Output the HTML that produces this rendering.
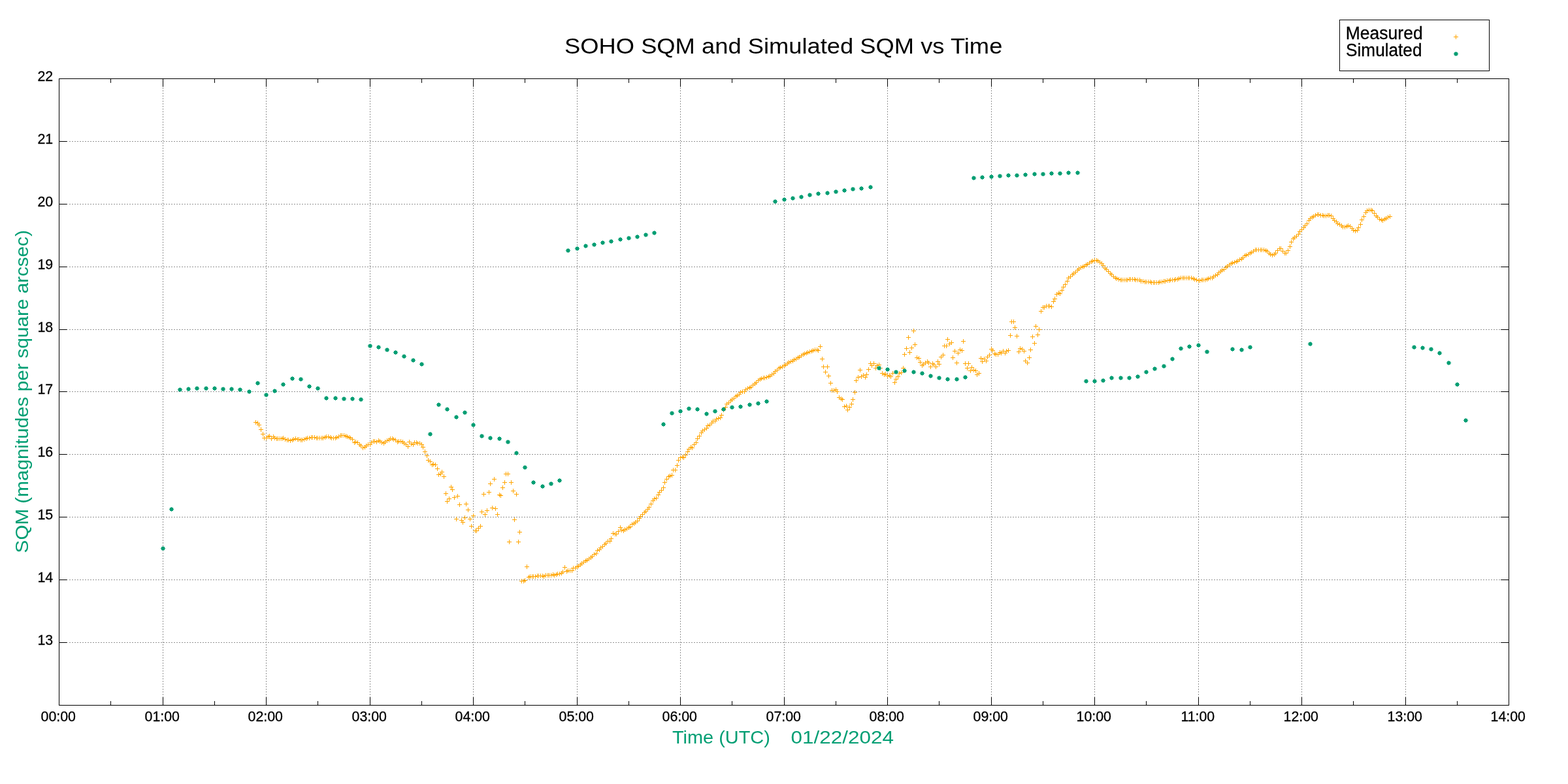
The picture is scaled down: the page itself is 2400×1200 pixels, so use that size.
<!DOCTYPE html>
<html lang="en"><head><meta charset="utf-8"><title>SOHO SQM and Simulated SQM vs Time</title>
<style>html,body{margin:0;padding:0;background:#fff}svg{display:block;will-change:transform}text{font-family:"Liberation Sans",sans-serif;fill:#000}</style></head><body>
<svg width="2400" height="1200" viewBox="0 0 2400 1200">
<rect width="2400" height="1200" fill="#fff"/>
<path d="M249.5 134V1067.5M407.5 134V1067.5M566.5 134V1067.5M724.5 134V1067.5M883.5 134V1067.5M1041.5 134V1067.5M1200.5 134V1067.5M1358.5 134V1067.5M1517.5 134V1067.5M1675.5 134V1067.5M1834.5 134V1067.5M1992.5 134V1067.5M2151.5 134V1067.5" fill="none" stroke="#939393" stroke-width="1" stroke-dasharray="2 2" stroke-dashoffset="0"/>
<path d="M106 983.5H2297.5M106 887.5H2297.5M106 791.5H2297.5M106 695.5H2297.5M106 599.5H2297.5M106 504.5H2297.5M106 408.5H2297.5M106 312.5H2297.5M106 216.5H2297.5" fill="none" stroke="#939393" stroke-width="1" stroke-dasharray="2 2" stroke-dashoffset="0"/>
<path d="M169.5 1079.5v-6M169.5 120.5v6M249.5 1079.5v-12M249.5 120.5v12M328.5 1079.5v-6M328.5 120.5v6M407.5 1079.5v-12M407.5 120.5v12M486.5 1079.5v-6M486.5 120.5v6M566.5 1079.5v-12M566.5 120.5v12M645.5 1079.5v-6M645.5 120.5v6M724.5 1079.5v-12M724.5 120.5v12M803.5 1079.5v-6M803.5 120.5v6M883.5 1079.5v-12M883.5 120.5v12M962.5 1079.5v-6M962.5 120.5v6M1041.5 1079.5v-12M1041.5 120.5v12M1120.5 1079.5v-6M1120.5 120.5v6M1200.5 1079.5v-12M1200.5 120.5v12M1279.5 1079.5v-6M1279.5 120.5v6M1358.5 1079.5v-12M1358.5 120.5v12M1437.5 1079.5v-6M1437.5 120.5v6M1517.5 1079.5v-12M1517.5 120.5v12M1596.5 1079.5v-6M1596.5 120.5v6M1675.5 1079.5v-12M1675.5 120.5v12M1754.5 1079.5v-6M1754.5 120.5v6M1834.5 1079.5v-12M1834.5 120.5v12M1913.5 1079.5v-6M1913.5 120.5v6M1992.5 1079.5v-12M1992.5 120.5v12M2071.5 1079.5v-6M2071.5 120.5v6M2151.5 1079.5v-12M2151.5 120.5v12M2230.5 1079.5v-6M2230.5 120.5v6M90.5 983.5h12M2309.5 983.5h-12M90.5 887.5h12M2309.5 887.5h-12M90.5 791.5h12M2309.5 791.5h-12M90.5 695.5h12M2309.5 695.5h-12M90.5 599.5h12M2309.5 599.5h-12M90.5 504.5h12M2309.5 504.5h-12M90.5 408.5h12M2309.5 408.5h-12M90.5 312.5h12M2309.5 312.5h-12M90.5 216.5h12M2309.5 216.5h-12" fill="none" stroke="#000" stroke-width="1" stroke-linecap="round"/>
<rect x="90.5" y="120.5" width="2219.0" height="959.0" fill="none" stroke="#000" stroke-width="1"/>
<g font-size="21.33px" text-anchor="end" stroke="#000" stroke-width="0.3">
<text x="81.2" y="987.1">13</text><text x="81.2" y="891.1">14</text><text x="81.2" y="795.1">15</text><text x="81.2" y="699.1">16</text><text x="81.2" y="603.1">17</text><text x="81.2" y="508.1">18</text><text x="81.2" y="412.1">19</text><text x="81.2" y="316.1">20</text><text x="81.2" y="220.1">21</text><text x="81.2" y="124.1">22</text>
</g>
<g font-size="21.33px" text-anchor="middle" stroke="#000" stroke-width="0.3">
<text x="89.3" y="1103.8">00:00</text><text x="248.3" y="1103.8">01:00</text><text x="406.3" y="1103.8">02:00</text><text x="565.3" y="1103.8">03:00</text><text x="723.3" y="1103.8">04:00</text><text x="882.3" y="1103.8">05:00</text><text x="1040.3" y="1103.8">06:00</text><text x="1199.3" y="1103.8">07:00</text><text x="1357.3" y="1103.8">08:00</text><text x="1516.3" y="1103.8">09:00</text><text x="1674.3" y="1103.8">10:00</text><text x="1833.3" y="1103.8">11:00</text><text x="1991.3" y="1103.8">12:00</text><text x="2150.3" y="1103.8">13:00</text><text x="2308.3" y="1103.8">14:00</text>
</g>
<path d="M388 646.5h7M391.5 643v7M391 647.5h7M394.5 644v7M393 650.5h7M396.5 647v7M396 657.5h7M399.5 654v7M399 664.5h7M402.5 661v7M401 670.5h7M404.5 667v7M404 670.5h7M407.5 667v7M407 668.5h7M410.5 665v7M409 667.5h7M412.5 664v7M412 671.5h7M415.5 668v7M415 668.5h7M418.5 665v7M417 670.5h7M420.5 667v7M420 671.5h7M423.5 668v7M422 671.5h7M425.5 668v7M425 671.5h7M428.5 668v7M428 671.5h7M431.5 668v7M430 670.5h7M433.5 667v7M433 672.5h7M436.5 669v7M436 673.5h7M439.5 670v7M438 673.5h7M441.5 670v7M441 674.5h7M444.5 671v7M444 673.5h7M447.5 670v7M446 672.5h7M449.5 669v7M449 671.5h7M452.5 668v7M452 672.5h7M455.5 669v7M454 672.5h7M457.5 669v7M457 673.5h7M460.5 670v7M459 673.5h7M462.5 670v7M462 672.5h7M465.5 669v7M465 671.5h7M468.5 668v7M467 670.5h7M470.5 667v7M470 670.5h7M473.5 667v7M473 669.5h7M476.5 666v7M475 669.5h7M478.5 666v7M478 669.5h7M481.5 666v7M481 670.5h7M484.5 667v7M483 670.5h7M486.5 667v7M486 670.5h7M489.5 667v7M489 670.5h7M492.5 667v7M491 670.5h7M494.5 667v7M494 669.5h7M497.5 666v7M496 668.5h7M499.5 665v7M499 668.5h7M502.5 665v7M502 669.5h7M505.5 666v7M504 670.5h7M507.5 667v7M507 670.5h7M510.5 667v7M510 670.5h7M513.5 667v7M512 669.5h7M515.5 666v7M515 668.5h7M518.5 665v7M518 666.5h7M521.5 663v7M520 666.5h7M523.5 663v7M523 666.5h7M526.5 663v7M526 667.5h7M529.5 664v7M528 668.5h7M531.5 665v7M531 669.5h7M534.5 666v7M533 670.5h7M536.5 667v7M536 672.5h7M539.5 669v7M539 677.5h7M542.5 674v7M541 676.5h7M544.5 673v7M544 677.5h7M547.5 674v7M547 680.5h7M550.5 677v7M549 682.5h7M552.5 679v7M552 685.5h7M555.5 682v7M555 684.5h7M558.5 681v7M557 682.5h7M560.5 679v7M560 680.5h7M563.5 677v7M563 680.5h7M566.5 677v7M565 677.5h7M568.5 674v7M568 675.5h7M571.5 672v7M570 675.5h7M573.5 672v7M573 676.5h7M576.5 673v7M576 674.5h7M579.5 671v7M578 675.5h7M581.5 672v7M581 677.5h7M584.5 674v7M584 678.5h7M587.5 675v7M586 676.5h7M589.5 673v7M589 674.5h7M592.5 671v7M592 673.5h7M595.5 670v7M594 671.5h7M597.5 668v7M597 671.5h7M600.5 668v7M599 672.5h7M602.5 669v7M602 673.5h7M605.5 670v7M605 676.5h7M608.5 673v7M607 675.5h7M610.5 672v7M610 675.5h7M613.5 672v7M613 676.5h7M616.5 673v7M615 678.5h7M618.5 675v7M618 680.5h7M621.5 677v7M621 683.5h7M624.5 680v7M623 676.5h7M626.5 673v7M626 679.5h7M629.5 676v7M629 680.5h7M632.5 677v7M631 677.5h7M634.5 674v7M634 677.5h7M637.5 674v7M636 678.5h7M639.5 675v7M639 678.5h7M642.5 675v7M642 680.5h7M645.5 677v7M644 684.5h7M647.5 681v7M647 691.5h7M650.5 688v7M650 697.5h7M653.5 694v7M652 704.5h7M655.5 701v7M655 706.5h7M658.5 703v7M658 711.5h7M661.5 708v7M660 710.5h7M663.5 707v7M663 711.5h7M666.5 708v7M666 717.5h7M669.5 714v7M668 726.5h7M671.5 723v7M671 725.5h7M674.5 722v7M673 722.5h7M676.5 719v7M676 729.5h7M679.5 726v7M679 755.5h7M682.5 752v7M681 767.5h7M684.5 764v7M684 763.5h7M687.5 760v7M687 745.5h7M690.5 742v7M689 749.5h7M692.5 746v7M692 761.5h7M695.5 758v7M695 794.5h7M698.5 791v7M697 759.5h7M700.5 756v7M700 772.5h7M703.5 769v7M703 796.5h7M706.5 793v7M705 799.5h7M708.5 796v7M708 792.5h7M711.5 789v7M710 771.5h7M713.5 768v7M713 780.5h7M716.5 777v7M716 794.5h7M719.5 791v7M718 805.5h7M721.5 802v7M721 789.5h7M724.5 786v7M724 812.5h7M727.5 809v7M726 812.5h7M729.5 809v7M729 808.5h7M732.5 805v7M732 805.5h7M735.5 802v7M734 783.5h7M737.5 780v7M737 756.5h7M740.5 753v7M739 787.5h7M742.5 784v7M742 781.5h7M745.5 778v7M745 753.5h7M748.5 750v7M747 740.5h7M750.5 737v7M750 777.5h7M753.5 774v7M753 733.5h7M756.5 730v7M755 778.5h7M758.5 775v7M758 787.5h7M761.5 784v7M761 757.5h7M764.5 754v7M763 758.5h7M766.5 755v7M766 746.5h7M769.5 743v7M769 738.5h7M772.5 735v7M771 725.5h7M774.5 722v7M774 725.5h7M777.5 722v7M776 829.5h7M779.5 826v7M779 738.5h7M782.5 735v7M782 751.5h7M785.5 748v7M784 795.5h7M787.5 792v7M787 756.5h7M790.5 753v7M790 829.5h7M793.5 826v7M792 814.5h7M795.5 811v7M795 889.5h7M798.5 886v7M798 889.5h7M801.5 886v7M800 888.5h7M803.5 885v7M803 867.5h7M806.5 864v7M806 883.5h7M809.5 880v7M808 882.5h7M811.5 879v7M811 882.5h7M814.5 879v7M813 882.5h7M816.5 879v7M816 882.5h7M819.5 879v7M819 881.5h7M822.5 878v7M821 881.5h7M824.5 878v7M824 881.5h7M827.5 878v7M827 881.5h7M830.5 878v7M829 882.5h7M832.5 879v7M832 880.5h7M835.5 877v7M835 880.5h7M838.5 877v7M837 880.5h7M840.5 877v7M840 880.5h7M843.5 877v7M843 879.5h7M846.5 876v7M845 880.5h7M848.5 877v7M848 879.5h7M851.5 876v7M850 878.5h7M853.5 875v7M853 878.5h7M856.5 875v7M856 877.5h7M859.5 874v7M858 875.5h7M861.5 872v7M861 868.5h7M864.5 865v7M864 874.5h7M867.5 871v7M866 873.5h7M869.5 870v7M869 873.5h7M872.5 870v7M872 873.5h7M875.5 870v7M874 869.5h7M877.5 866v7M877 869.5h7M880.5 866v7M880 867.5h7M883.5 864v7M882 866.5h7M885.5 863v7M885 864.5h7M888.5 861v7M887 862.5h7M890.5 859v7M890 860.5h7M893.5 857v7M893 858.5h7M896.5 855v7M895 857.5h7M898.5 854v7M898 855.5h7M901.5 852v7M901 853.5h7M904.5 850v7M903 851.5h7M906.5 848v7M906 848.5h7M909.5 845v7M909 847.5h7M912.5 844v7M911 842.5h7M914.5 839v7M914 841.5h7M917.5 838v7M916 838.5h7M919.5 835v7M919 836.5h7M922.5 833v7M922 833.5h7M925.5 830v7M924 831.5h7M927.5 828v7M927 828.5h7M930.5 825v7M930 828.5h7M933.5 825v7M932 824.5h7M935.5 821v7M935 816.5h7M938.5 813v7M938 817.5h7M941.5 814v7M940 817.5h7M943.5 814v7M943 813.5h7M946.5 810v7M946 807.5h7M949.5 804v7M948 811.5h7M951.5 808v7M951 812.5h7M954.5 809v7M953 810.5h7M956.5 807v7M956 809.5h7M959.5 806v7M959 807.5h7M962.5 804v7M961 806.5h7M964.5 803v7M964 802.5h7M967.5 799v7M967 801.5h7M970.5 798v7M969 799.5h7M972.5 796v7M972 797.5h7M975.5 794v7M975 793.5h7M978.5 790v7M977 790.5h7M980.5 787v7M980 787.5h7M983.5 784v7M983 784.5h7M986.5 781v7M985 782.5h7M988.5 779v7M988 779.5h7M991.5 776v7M990 776.5h7M993.5 773v7M993 771.5h7M996.5 768v7M996 766.5h7M999.5 763v7M998 763.5h7M1001.5 760v7M1001 762.5h7M1004.5 759v7M1004 757.5h7M1007.5 754v7M1006 753.5h7M1009.5 750v7M1009 750.5h7M1012.5 747v7M1012 746.5h7M1015.5 743v7M1014 738.5h7M1017.5 735v7M1017 733.5h7M1020.5 730v7M1020 729.5h7M1023.5 726v7M1022 728.5h7M1025.5 725v7M1025 727.5h7M1028.5 724v7M1027 719.5h7M1030.5 716v7M1030 719.5h7M1033.5 716v7M1033 712.5h7M1036.5 709v7M1035 704.5h7M1038.5 701v7M1038 700.5h7M1041.5 697v7M1041 699.5h7M1044.5 696v7M1043 700.5h7M1046.5 697v7M1046 696.5h7M1049.5 693v7M1049 691.5h7M1052.5 688v7M1051 687.5h7M1054.5 684v7M1054 684.5h7M1057.5 681v7M1056 685.5h7M1059.5 682v7M1059 680.5h7M1062.5 677v7M1062 677.5h7M1065.5 674v7M1064 671.5h7M1067.5 668v7M1067 667.5h7M1070.5 664v7M1070 662.5h7M1073.5 659v7M1072 659.5h7M1075.5 656v7M1075 657.5h7M1078.5 654v7M1078 655.5h7M1081.5 652v7M1080 651.5h7M1083.5 648v7M1083 650.5h7M1086.5 647v7M1086 647.5h7M1089.5 644v7M1088 644.5h7M1091.5 641v7M1091 644.5h7M1094.5 641v7M1093 641.5h7M1096.5 638v7M1096 640.5h7M1099.5 637v7M1099 639.5h7M1102.5 636v7M1101 635.5h7M1104.5 632v7M1104 627.5h7M1107.5 624v7M1107 623.5h7M1110.5 620v7M1109 618.5h7M1112.5 615v7M1112 616.5h7M1115.5 613v7M1115 613.5h7M1118.5 610v7M1117 611.5h7M1120.5 608v7M1120 609.5h7M1123.5 606v7M1123 606.5h7M1126.5 603v7M1125 605.5h7M1128.5 602v7M1128 603.5h7M1131.5 600v7M1130 600.5h7M1133.5 597v7M1133 599.5h7M1136.5 596v7M1136 599.5h7M1139.5 596v7M1138 596.5h7M1141.5 593v7M1141 594.5h7M1144.5 591v7M1144 593.5h7M1147.5 590v7M1146 592.5h7M1149.5 589v7M1149 589.5h7M1152.5 586v7M1152 587.5h7M1155.5 584v7M1154 585.5h7M1157.5 582v7M1157 582.5h7M1160.5 579v7M1160 580.5h7M1163.5 577v7M1162 579.5h7M1165.5 576v7M1165 578.5h7M1168.5 575v7M1167 578.5h7M1170.5 575v7M1170 577.5h7M1173.5 574v7M1173 576.5h7M1176.5 573v7M1175 575.5h7M1178.5 572v7M1178 573.5h7M1181.5 570v7M1181 571.5h7M1184.5 568v7M1183 568.5h7M1186.5 565v7M1186 566.5h7M1189.5 563v7M1189 563.5h7M1192.5 560v7M1191 562.5h7M1194.5 559v7M1194 561.5h7M1197.5 558v7M1197 559.5h7M1200.5 556v7M1199 558.5h7M1202.5 555v7M1202 556.5h7M1205.5 553v7M1204 554.5h7M1207.5 551v7M1207 553.5h7M1210.5 550v7M1210 552.5h7M1213.5 549v7M1212 550.5h7M1215.5 547v7M1215 549.5h7M1218.5 546v7M1218 547.5h7M1221.5 544v7M1220 546.5h7M1223.5 543v7M1223 544.5h7M1226.5 541v7M1226 542.5h7M1229.5 539v7M1228 541.5h7M1231.5 538v7M1231 540.5h7M1234.5 537v7M1233 539.5h7M1236.5 536v7M1236 538.5h7M1239.5 535v7M1239 537.5h7M1242.5 534v7M1241 536.5h7M1244.5 533v7M1244 535.5h7M1247.5 532v7M1247 535.5h7M1250.5 532v7M1249 536.5h7M1252.5 533v7M1252 530.5h7M1255.5 527v7M1255 549.5h7M1258.5 546v7M1257 561.5h7M1260.5 558v7M1260 569.5h7M1263.5 566v7M1263 561.5h7M1266.5 558v7M1265 575.5h7M1268.5 572v7M1268 586.5h7M1271.5 583v7M1270 597.5h7M1273.5 594v7M1273 597.5h7M1276.5 594v7M1276 596.5h7M1279.5 593v7M1278 599.5h7M1281.5 596v7M1281 608.5h7M1284.5 605v7M1284 610.5h7M1287.5 607v7M1286 611.5h7M1289.5 608v7M1289 622.5h7M1292.5 619v7M1292 621.5h7M1295.5 618v7M1294 627.5h7M1297.5 624v7M1297 623.5h7M1300.5 620v7M1300 618.5h7M1303.5 615v7M1302 611.5h7M1305.5 608v7M1305 600.5h7M1308.5 597v7M1307 582.5h7M1310.5 579v7M1310 577.5h7M1313.5 574v7M1313 566.5h7M1316.5 563v7M1315 576.5h7M1318.5 573v7M1318 574.5h7M1321.5 571v7M1321 577.5h7M1324.5 574v7M1323 573.5h7M1326.5 570v7M1326 565.5h7M1329.5 562v7M1329 556.5h7M1332.5 553v7M1331 559.5h7M1334.5 556v7M1334 556.5h7M1337.5 553v7M1337 563.5h7M1340.5 560v7M1339 559.5h7M1342.5 556v7M1342 558.5h7M1345.5 555v7M1344 563.5h7M1347.5 560v7M1347 571.5h7M1350.5 568v7M1350 573.5h7M1353.5 570v7M1352 572.5h7M1355.5 569v7M1355 575.5h7M1358.5 572v7M1358 574.5h7M1361.5 571v7M1360 576.5h7M1363.5 573v7M1363 571.5h7M1366.5 568v7M1366 585.5h7M1369.5 582v7M1368 580.5h7M1371.5 577v7M1371 576.5h7M1374.5 573v7M1373 571.5h7M1376.5 568v7M1376 570.5h7M1379.5 567v7M1379 563.5h7M1382.5 560v7M1381 542.5h7M1384.5 539v7M1384 533.5h7M1387.5 530v7M1387 516.5h7M1390.5 513v7M1389 539.5h7M1392.5 536v7M1392 532.5h7M1395.5 529v7M1395 506.5h7M1398.5 503v7M1397 527.5h7M1400.5 524v7M1400 547.5h7M1403.5 544v7M1403 548.5h7M1406.5 545v7M1405 554.5h7M1408.5 551v7M1408 559.5h7M1411.5 556v7M1410 557.5h7M1413.5 554v7M1413 555.5h7M1416.5 552v7M1416 553.5h7M1419.5 550v7M1418 555.5h7M1421.5 552v7M1421 561.5h7M1424.5 558v7M1424 556.5h7M1427.5 553v7M1426 558.5h7M1429.5 555v7M1429 561.5h7M1432.5 558v7M1432 553.5h7M1435.5 550v7M1434 557.5h7M1437.5 554v7M1437 546.5h7M1440.5 543v7M1440 543.5h7M1443.5 540v7M1442 529.5h7M1445.5 526v7M1445 529.5h7M1448.5 526v7M1447 519.5h7M1450.5 516v7M1450 526.5h7M1453.5 523v7M1453 524.5h7M1456.5 521v7M1455 547.5h7M1458.5 544v7M1458 537.5h7M1461.5 534v7M1461 555.5h7M1464.5 552v7M1463 540.5h7M1466.5 537v7M1466 535.5h7M1469.5 532v7M1469 536.5h7M1472.5 533v7M1471 522.5h7M1474.5 519v7M1474 556.5h7M1477.5 553v7M1477 563.5h7M1480.5 560v7M1479 556.5h7M1482.5 553v7M1482 567.5h7M1485.5 564v7M1484 562.5h7M1487.5 559v7M1487 566.5h7M1490.5 563v7M1490 567.5h7M1493.5 564v7M1492 573.5h7M1495.5 570v7M1495 571.5h7M1498.5 568v7M1498 548.5h7M1501.5 545v7M1500 553.5h7M1503.5 550v7M1503 549.5h7M1506.5 546v7M1506 552.5h7M1509.5 549v7M1508 546.5h7M1511.5 543v7M1511 543.5h7M1514.5 540v7M1514 534.5h7M1517.5 531v7M1516 536.5h7M1519.5 533v7M1519 541.5h7M1522.5 538v7M1521 542.5h7M1524.5 539v7M1524 542.5h7M1527.5 539v7M1527 539.5h7M1530.5 536v7M1529 540.5h7M1532.5 537v7M1532 537.5h7M1535.5 534v7M1535 540.5h7M1538.5 537v7M1537 537.5h7M1540.5 534v7M1540 536.5h7M1543.5 533v7M1543 513.5h7M1546.5 510v7M1545 492.5h7M1548.5 489v7M1548 492.5h7M1551.5 489v7M1550 501.5h7M1553.5 498v7M1553 514.5h7M1556.5 511v7M1556 538.5h7M1559.5 535v7M1558 533.5h7M1561.5 530v7M1561 534.5h7M1564.5 531v7M1564 537.5h7M1567.5 534v7M1566 552.5h7M1569.5 549v7M1569 555.5h7M1572.5 552v7M1572 547.5h7M1575.5 544v7M1574 535.5h7M1577.5 532v7M1577 515.5h7M1580.5 512v7M1580 525.5h7M1583.5 522v7M1582 499.5h7M1585.5 496v7M1585 512.5h7M1588.5 509v7M1587 504.5h7M1590.5 501v7M1590 476.5h7M1593.5 473v7M1593 470.5h7M1596.5 467v7M1595 470.5h7M1598.5 467v7M1598 468.5h7M1601.5 465v7M1601 468.5h7M1604.5 465v7M1603 468.5h7M1606.5 465v7M1606 469.5h7M1609.5 466v7M1609 461.5h7M1612.5 458v7M1611 457.5h7M1614.5 454v7M1614 450.5h7M1617.5 447v7M1617 448.5h7M1620.5 445v7M1619 449.5h7M1622.5 446v7M1622 444.5h7M1625.5 441v7M1624 439.5h7M1627.5 436v7M1627 435.5h7M1630.5 432v7M1630 430.5h7M1633.5 427v7M1632 425.5h7M1635.5 422v7M1635 423.5h7M1638.5 420v7M1638 420.5h7M1641.5 417v7M1640 418.5h7M1643.5 415v7M1643 416.5h7M1646.5 413v7M1646 413.5h7M1649.5 410v7M1648 411.5h7M1651.5 408v7M1651 409.5h7M1654.5 406v7M1654 408.5h7M1657.5 405v7M1656 407.5h7M1659.5 404v7M1659 405.5h7M1662.5 402v7M1661 404.5h7M1664.5 401v7M1664 402.5h7M1667.5 399v7M1667 400.5h7M1670.5 397v7M1669 399.5h7M1672.5 396v7M1672 398.5h7M1675.5 395v7M1675 398.5h7M1678.5 395v7M1677 399.5h7M1680.5 396v7M1680 401.5h7M1683.5 398v7M1683 403.5h7M1686.5 400v7M1685 406.5h7M1688.5 403v7M1688 410.5h7M1691.5 407v7M1690 412.5h7M1693.5 409v7M1693 415.5h7M1696.5 412v7M1696 418.5h7M1699.5 415v7M1698 420.5h7M1701.5 417v7M1701 423.5h7M1704.5 420v7M1704 425.5h7M1707.5 422v7M1706 426.5h7M1709.5 423v7M1709 427.5h7M1712.5 424v7M1712 428.5h7M1715.5 425v7M1714 428.5h7M1717.5 425v7M1717 428.5h7M1720.5 425v7M1720 428.5h7M1723.5 425v7M1722 428.5h7M1725.5 425v7M1725 427.5h7M1728.5 424v7M1727 427.5h7M1730.5 424v7M1730 427.5h7M1733.5 424v7M1733 427.5h7M1736.5 424v7M1735 428.5h7M1738.5 425v7M1738 428.5h7M1741.5 425v7M1741 428.5h7M1744.5 425v7M1743 430.5h7M1746.5 427v7M1746 430.5h7M1749.5 427v7M1749 431.5h7M1752.5 428v7M1751 431.5h7M1754.5 428v7M1754 431.5h7M1757.5 428v7M1757 431.5h7M1760.5 428v7M1759 432.5h7M1762.5 429v7M1762 432.5h7M1765.5 429v7M1764 432.5h7M1767.5 429v7M1767 432.5h7M1770.5 429v7M1770 432.5h7M1773.5 429v7M1772 431.5h7M1775.5 428v7M1775 431.5h7M1778.5 428v7M1778 430.5h7M1781.5 427v7M1780 430.5h7M1783.5 427v7M1783 429.5h7M1786.5 426v7M1786 429.5h7M1789.5 426v7M1788 428.5h7M1791.5 425v7M1791 428.5h7M1794.5 425v7M1794 428.5h7M1797.5 425v7M1796 427.5h7M1799.5 424v7M1799 427.5h7M1802.5 424v7M1801 426.5h7M1804.5 423v7M1804 425.5h7M1807.5 422v7M1807 425.5h7M1810.5 422v7M1809 425.5h7M1812.5 422v7M1812 425.5h7M1815.5 422v7M1815 425.5h7M1818.5 422v7M1817 425.5h7M1820.5 422v7M1820 425.5h7M1823.5 422v7M1823 426.5h7M1826.5 423v7M1825 427.5h7M1828.5 424v7M1828 428.5h7M1831.5 425v7M1831 429.5h7M1834.5 426v7M1833 429.5h7M1836.5 426v7M1836 428.5h7M1839.5 425v7M1838 428.5h7M1841.5 425v7M1841 428.5h7M1844.5 425v7M1844 427.5h7M1847.5 424v7M1846 426.5h7M1849.5 423v7M1849 425.5h7M1852.5 422v7M1852 425.5h7M1855.5 422v7M1854 423.5h7M1857.5 420v7M1857 421.5h7M1860.5 418v7M1860 420.5h7M1863.5 417v7M1862 417.5h7M1865.5 414v7M1865 415.5h7M1868.5 412v7M1867 413.5h7M1870.5 410v7M1870 412.5h7M1873.5 409v7M1873 409.5h7M1876.5 406v7M1875 407.5h7M1878.5 404v7M1878 405.5h7M1881.5 402v7M1881 403.5h7M1884.5 400v7M1883 402.5h7M1886.5 399v7M1886 401.5h7M1889.5 398v7M1889 400.5h7M1892.5 397v7M1891 399.5h7M1894.5 396v7M1894 397.5h7M1897.5 394v7M1897 396.5h7M1900.5 393v7M1899 394.5h7M1902.5 391v7M1902 391.5h7M1905.5 388v7M1904 390.5h7M1907.5 387v7M1907 389.5h7M1910.5 386v7M1910 387.5h7M1913.5 384v7M1912 386.5h7M1915.5 383v7M1915 384.5h7M1918.5 381v7M1918 382.5h7M1921.5 379v7M1920 382.5h7M1923.5 379v7M1923 382.5h7M1926.5 379v7M1926 382.5h7M1929.5 379v7M1928 382.5h7M1931.5 379v7M1931 382.5h7M1934.5 379v7M1934 383.5h7M1937.5 380v7M1936 384.5h7M1939.5 381v7M1939 387.5h7M1942.5 384v7M1941 389.5h7M1944.5 386v7M1944 390.5h7M1947.5 387v7M1947 389.5h7M1950.5 386v7M1949 387.5h7M1952.5 384v7M1952 383.5h7M1955.5 380v7M1955 380.5h7M1958.5 377v7M1957 380.5h7M1960.5 377v7M1960 384.5h7M1963.5 381v7M1963 387.5h7M1966.5 384v7M1965 387.5h7M1968.5 384v7M1968 383.5h7M1971.5 380v7M1971 377.5h7M1974.5 374v7M1973 370.5h7M1976.5 367v7M1976 365.5h7M1979.5 362v7M1978 363.5h7M1981.5 360v7M1981 361.5h7M1984.5 358v7M1984 358.5h7M1987.5 355v7M1986 354.5h7M1989.5 351v7M1989 351.5h7M1992.5 348v7M1992 348.5h7M1995.5 345v7M1994 345.5h7M1997.5 342v7M1997 342.5h7M2000.5 339v7M2000 337.5h7M2003.5 334v7M2002 334.5h7M2005.5 331v7M2005 332.5h7M2008.5 329v7M2007 331.5h7M2010.5 328v7M2010 329.5h7M2013.5 326v7M2013 328.5h7M2016.5 325v7M2015 328.5h7M2018.5 325v7M2018 329.5h7M2021.5 326v7M2021 329.5h7M2024.5 326v7M2023 330.5h7M2026.5 327v7M2026 330.5h7M2029.5 327v7M2029 329.5h7M2032.5 326v7M2031 329.5h7M2034.5 326v7M2034 330.5h7M2037.5 327v7M2037 334.5h7M2040.5 331v7M2039 337.5h7M2042.5 334v7M2042 339.5h7M2045.5 336v7M2044 342.5h7M2047.5 339v7M2047 343.5h7M2050.5 340v7M2050 345.5h7M2053.5 342v7M2052 347.5h7M2055.5 344v7M2055 347.5h7M2058.5 344v7M2058 346.5h7M2061.5 343v7M2060 345.5h7M2063.5 342v7M2063 346.5h7M2066.5 343v7M2066 349.5h7M2069.5 346v7M2068 352.5h7M2071.5 349v7M2071 353.5h7M2074.5 350v7M2074 352.5h7M2077.5 349v7M2076 348.5h7M2079.5 345v7M2079 343.5h7M2082.5 340v7M2081 336.5h7M2084.5 333v7M2084 331.5h7M2087.5 328v7M2087 325.5h7M2090.5 322v7M2089 322.5h7M2092.5 319v7M2092 321.5h7M2095.5 318v7M2095 321.5h7M2098.5 318v7M2097 322.5h7M2100.5 319v7M2100 326.5h7M2103.5 323v7M2103 330.5h7M2106.5 327v7M2105 332.5h7M2108.5 329v7M2108 335.5h7M2111.5 332v7M2111 336.5h7M2114.5 333v7M2113 337.5h7M2116.5 334v7M2116 335.5h7M2119.5 332v7M2118 334.5h7M2121.5 331v7M2121 332.5h7M2124.5 329v7M2124 331.5h7M2127.5 328v7" fill="none" stroke="#ffa500" stroke-width="1"/>
<defs><g id="s"><circle r="2.75" fill="#009e73"/><path d="M-3.6 0H3.6M0 -3.6V3.6M-2.4 -2.4L2.4 2.4M-2.4 2.4L2.4 -2.4" stroke="#009e73" stroke-width="1.1" fill="none"/></g></defs>
<g><use href="#s" x="249.5" y="839.5"/><use href="#s" x="262.5" y="779.5"/><use href="#s" x="275.5" y="596.5"/><use href="#s" x="288.5" y="595.5"/><use href="#s" x="301.5" y="594.5"/><use href="#s" x="315.5" y="594.5"/><use href="#s" x="328.5" y="594.5"/><use href="#s" x="341.5" y="595.5"/><use href="#s" x="354.5" y="595.5"/><use href="#s" x="367.5" y="596.5"/><use href="#s" x="381.5" y="599.5"/><use href="#s" x="394.5" y="586.5"/><use href="#s" x="407.5" y="604.5"/><use href="#s" x="420.5" y="598.5"/><use href="#s" x="433.5" y="588.5"/><use href="#s" x="447.5" y="579.5"/><use href="#s" x="460.5" y="580.5"/><use href="#s" x="473.5" y="591.5"/><use href="#s" x="486.5" y="594.5"/><use href="#s" x="499.5" y="609.5"/><use href="#s" x="513.5" y="609.5"/><use href="#s" x="526.5" y="610.5"/><use href="#s" x="539.5" y="610.5"/><use href="#s" x="552.5" y="611.5"/><use href="#s" x="566.5" y="529.5"/><use href="#s" x="579.5" y="531.5"/><use href="#s" x="592.5" y="535.5"/><use href="#s" x="605.5" y="539.5"/><use href="#s" x="618.5" y="545.5"/><use href="#s" x="632.5" y="551.5"/><use href="#s" x="645.5" y="557.5"/><use href="#s" x="658.5" y="664.5"/><use href="#s" x="671.5" y="619.5"/><use href="#s" x="684.5" y="626.5"/><use href="#s" x="698.5" y="638.5"/><use href="#s" x="711.5" y="631.5"/><use href="#s" x="724.5" y="650.5"/><use href="#s" x="737.5" y="667.5"/><use href="#s" x="750.5" y="670.5"/><use href="#s" x="764.5" y="671.5"/><use href="#s" x="777.5" y="676.5"/><use href="#s" x="790.5" y="693.5"/><use href="#s" x="803.5" y="715.5"/><use href="#s" x="816.5" y="738.5"/><use href="#s" x="830.5" y="744.5"/><use href="#s" x="843.5" y="740.5"/><use href="#s" x="856.5" y="735.5"/><use href="#s" x="869.5" y="383.5"/><use href="#s" x="883.5" y="380.5"/><use href="#s" x="896.5" y="376.5"/><use href="#s" x="909.5" y="374.5"/><use href="#s" x="922.5" y="371.5"/><use href="#s" x="935.5" y="369.5"/><use href="#s" x="949.5" y="366.5"/><use href="#s" x="962.5" y="364.5"/><use href="#s" x="975.5" y="362.5"/><use href="#s" x="988.5" y="359.5"/><use href="#s" x="1001.5" y="356.5"/><use href="#s" x="1015.5" y="649.5"/><use href="#s" x="1028.5" y="632.5"/><use href="#s" x="1041.5" y="629.5"/><use href="#s" x="1054.5" y="625.5"/><use href="#s" x="1067.5" y="626.5"/><use href="#s" x="1081.5" y="633.5"/><use href="#s" x="1094.5" y="629.5"/><use href="#s" x="1107.5" y="626.5"/><use href="#s" x="1120.5" y="623.5"/><use href="#s" x="1133.5" y="622.5"/><use href="#s" x="1147.5" y="619.5"/><use href="#s" x="1160.5" y="617.5"/><use href="#s" x="1173.5" y="614.5"/><use href="#s" x="1186.5" y="308.5"/><use href="#s" x="1200.5" y="305.5"/><use href="#s" x="1213.5" y="303.5"/><use href="#s" x="1226.5" y="301.5"/><use href="#s" x="1239.5" y="298.5"/><use href="#s" x="1252.5" y="296.5"/><use href="#s" x="1266.5" y="295.5"/><use href="#s" x="1279.5" y="293.5"/><use href="#s" x="1292.5" y="291.5"/><use href="#s" x="1305.5" y="289.5"/><use href="#s" x="1318.5" y="288.5"/><use href="#s" x="1332.5" y="286.5"/><use href="#s" x="1345.5" y="563.5"/><use href="#s" x="1358.5" y="565.5"/><use href="#s" x="1371.5" y="569.5"/><use href="#s" x="1384.5" y="567.5"/><use href="#s" x="1398.5" y="569.5"/><use href="#s" x="1411.5" y="571.5"/><use href="#s" x="1424.5" y="575.5"/><use href="#s" x="1437.5" y="578.5"/><use href="#s" x="1450.5" y="580.5"/><use href="#s" x="1464.5" y="580.5"/><use href="#s" x="1477.5" y="577.5"/><use href="#s" x="1490.5" y="272.5"/><use href="#s" x="1503.5" y="271.5"/><use href="#s" x="1517.5" y="270.5"/><use href="#s" x="1530.5" y="269.5"/><use href="#s" x="1543.5" y="268.5"/><use href="#s" x="1556.5" y="268.5"/><use href="#s" x="1569.5" y="267.5"/><use href="#s" x="1583.5" y="266.5"/><use href="#s" x="1596.5" y="266.5"/><use href="#s" x="1609.5" y="265.5"/><use href="#s" x="1622.5" y="265.5"/><use href="#s" x="1635.5" y="264.5"/><use href="#s" x="1649.5" y="264.5"/><use href="#s" x="1662.5" y="583.5"/><use href="#s" x="1675.5" y="583.5"/><use href="#s" x="1688.5" y="582.5"/><use href="#s" x="1701.5" y="578.5"/><use href="#s" x="1715.5" y="578.5"/><use href="#s" x="1728.5" y="578.5"/><use href="#s" x="1741.5" y="576.5"/><use href="#s" x="1754.5" y="569.5"/><use href="#s" x="1767.5" y="564.5"/><use href="#s" x="1781.5" y="560.5"/><use href="#s" x="1794.5" y="549.5"/><use href="#s" x="1807.5" y="533.5"/><use href="#s" x="1820.5" y="530.5"/><use href="#s" x="1834.5" y="528.5"/><use href="#s" x="1847.5" y="538.5"/><use href="#s" x="1886.5" y="534.5"/><use href="#s" x="1900.5" y="535.5"/><use href="#s" x="1913.5" y="531.5"/><use href="#s" x="2005.5" y="526.5"/><use href="#s" x="2164.5" y="531.5"/><use href="#s" x="2177.5" y="532.5"/><use href="#s" x="2190.5" y="534.5"/><use href="#s" x="2203.5" y="540.5"/><use href="#s" x="2217.5" y="555.5"/><use href="#s" x="2230.5" y="588.5"/><use href="#s" x="2243.5" y="643.5"/></g>
<rect x="2050.5" y="30.5" width="229" height="78" fill="#fff" stroke="#000" stroke-width="1"/>
<g font-size="27.7px" stroke="#000" stroke-width="0.3"><text transform="translate(2059.7 59.9) scale(0.958 1)">Measured</text><text transform="translate(2060.1 85.9) scale(0.945 1)">Simulated</text></g>
<path d="M2225 56.5h7M2228.5 53v7" fill="none" stroke="#ffa500" stroke-width="1"/><use href="#s" x="2228.5" y="82.5"/>
<text x="1199.2" y="81.85" font-size="33.2px" text-anchor="middle" textLength="670.3" lengthAdjust="spacingAndGlyphs" style="fill:#000">SOHO SQM and Simulated SQM vs Time</text>
<text x="1029" y="1137.9" font-size="27.4px" textLength="149.8" lengthAdjust="spacingAndGlyphs" style="fill:#009e73">Time (UTC)</text>
<text x="1210.4" y="1137.9" font-size="27.4px" textLength="157.5" lengthAdjust="spacingAndGlyphs" style="fill:#009e73">01/22/2024</text>
<text transform="translate(43.2 599.3) rotate(-90)" font-size="27.4px" text-anchor="middle" textLength="494.2" lengthAdjust="spacingAndGlyphs" style="fill:#009e73">SQM (magnitudes per square arcsec)</text>
</svg>
</body></html>
